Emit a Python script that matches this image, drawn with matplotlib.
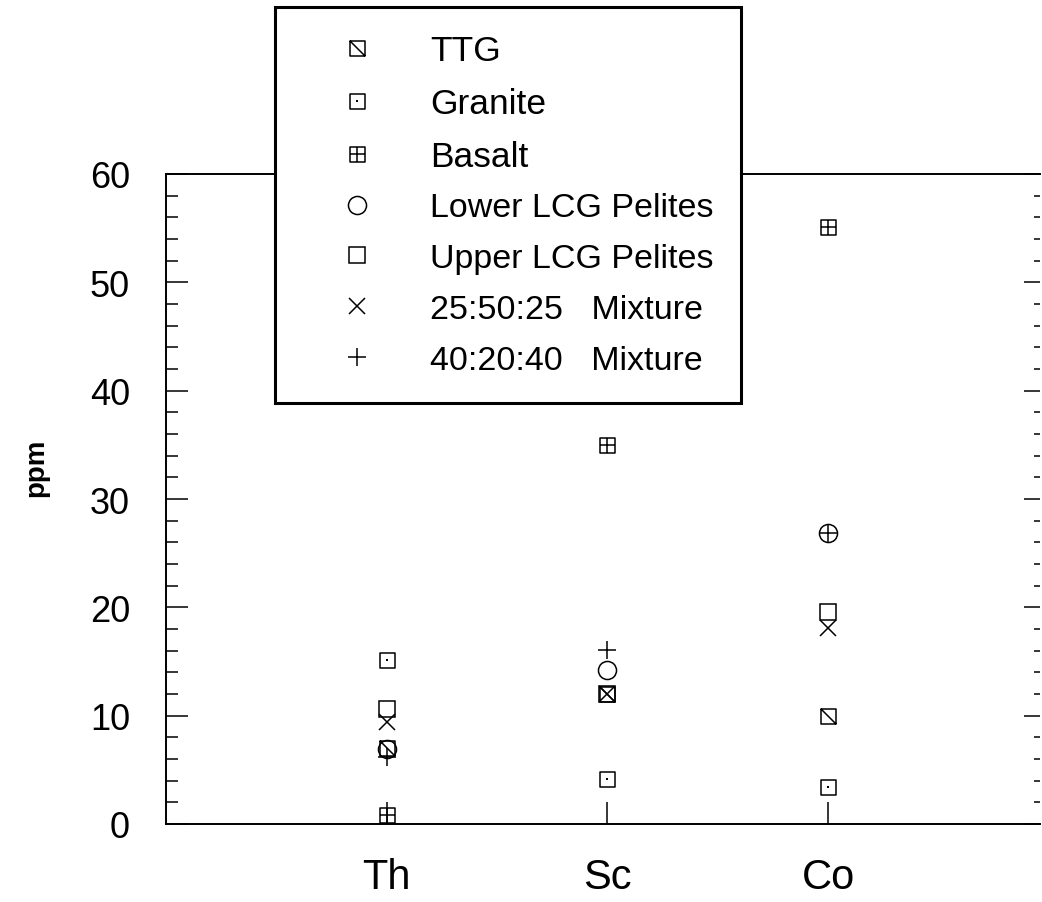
import numpy as np
import matplotlib
matplotlib.use('Agg')

import matplotlib.pyplot as plt
from matplotlib.path import Path
from matplotlib.lines import Line2D

plt.rcParams['font.family'] = ['Liberation Sans', 'DejaVu Sans']

# element concentrations (ppm), one list per rock type, in element order
elements = ["Th", "Sc", "Co"]
ttg = [7.0, 12.0, 10.0]
granite = [15.1, 4.2, 3.4]
basalt = [0.8, 35.0, 55.1]
lower_lcg = [6.9, 14.2, 26.9]
upper_lcg = [10.6, 12.0, 19.6]
mix_25_50_25 = [9.4, 12.0, 18.1]
mix_40_20_40 = [6.2, 16.1, 26.9]

labels = ["TTG", "Granite", "Basalt", "Lower LCG Pelites",
          "Upper LCG Pelites", "25:50:25   Mixture", "40:20:40   Mixture"]


# ---------------- custom square markers ----------------
def box_marker(extra):
    verts = [(-1, -1), (1, -1), (1, 1), (-1, 1), (-1, -1)]
    codes = [Path.MOVETO, Path.LINETO, Path.LINETO, Path.LINETO, Path.CLOSEPOLY]
    for a, b in extra:
        verts += [a, b]
        codes += [Path.MOVETO, Path.LINETO]
    return Path(verts, codes)


ttg_mark = box_marker([((-1, 1), (1, -1))])
granite_mark = box_marker([((-0.12, 0), (0.12, 0)), ((0, -0.12), (0, 0.12))])
basalt_mark = box_marker([((-1, 0), (1, 0)), ((0, -1), (0, 1))])

styles = [
    dict(marker=ttg_mark, ms=10.8),
    dict(marker=granite_mark, ms=10.8),
    dict(marker=basalt_mark, ms=10.8),
    dict(marker="o", ms=13),
    dict(marker="s", ms=11),
    dict(marker="x", ms=11.5),
    dict(marker="+", ms=12.5),
]
series = [ttg, granite, basalt, lower_lcg, upper_lcg, mix_25_50_25, mix_40_20_40]

fig = plt.figure(figsize=(10.42, 9.03), dpi=100)
ax = fig.add_axes([166 / 1042, 1 - 825 / 903, (1040 - 166) / 1042, (825 - 175) / 903])

x = np.arange(1, len(elements) + 1)
handles = []
for vals, st, lab in zip(series, styles, labels):
    ax.plot(x, vals, linestyle="none", marker=st["marker"], markersize=st["ms"],
            markerfacecolor="none", markeredgecolor="black", markeredgewidth=1.1)
    handles.append(Line2D([], [], linestyle="none", marker=st["marker"],
                          markersize=st["ms"], markerfacecolor="none",
                          markeredgecolor="black", markeredgewidth=1.1, label=lab))

ax.set_xlim(0, 3.96)
ax.set_ylim(0, 60)

# ---------------- axes / ticks ----------------
ax.spines["right"].set_visible(False)
for s in ["left", "bottom", "top"]:
    ax.spines[s].set_linewidth(1.4)

ax.set_xticks(x)
ax.set_xticklabels(elements, fontsize=30)
ax.set_yticks(np.arange(0, 61, 10))
ax.set_yticks(np.arange(0, 61, 2), minor=True)
ax.tick_params(axis="x", direction="in", length=15.8, width=1.1, pad=24)
ax.tick_params(axis="y", which="major", direction="in", length=15.8, width=1.1,
               labelsize=26, pad=26)
ax.tick_params(axis="y", which="minor", direction="in", length=8.6, width=1.1)

# short ticks on the right side, no spine
ax2 = ax.twinx()
ax2.set_ylim(0, 60)
ax2.set_yticks(np.arange(0, 61, 10))
ax2.set_yticks(np.arange(0, 61, 2), minor=True)
ax2.tick_params(axis="y", which="major", direction="in", length=11.5, width=1.1,
                labelright=False)
ax2.tick_params(axis="y", which="minor", direction="in", length=4.3, width=1.1)
for s in ax2.spines.values():
    s.set_visible(False)

fig.text(36 / 1042, 1 - 468 / 903, "ppm", rotation=90, fontsize=20,
         fontweight="bold", ha="center", va="center")

# ---------------- legend ----------------
leg = ax2.legend(handles=handles, loc="upper left",
                 bbox_to_anchor=(275 / 1042, 1 - 8 / 903),
                 bbox_transform=fig.transFigure, borderaxespad=0,
                 fontsize=24.5, borderpad=0.8, handlelength=3.2,
                 handletextpad=0.55, labelspacing=0.58, fancybox=False,
                 framealpha=1, edgecolor="black")
leg.get_frame().set_linewidth(2.2)
for t in leg.get_texts()[:3]:
    t.set_fontsize(25.5)

fig.savefig("out.png", dpi=100, facecolor="white")
